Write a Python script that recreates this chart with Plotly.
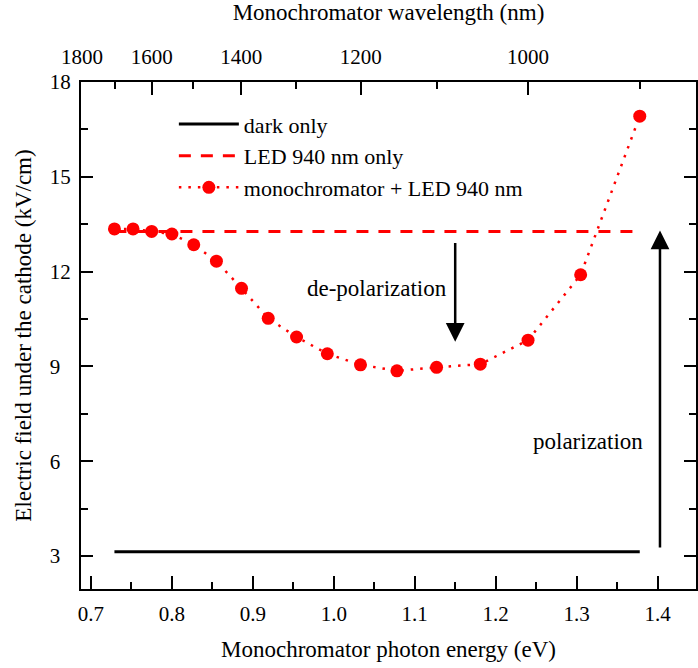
import plotly.graph_objects as go

# Data
energy_ev = [0.729, 0.752, 0.775, 0.800, 0.827, 0.855, 0.886, 0.919, 0.954,
             0.992, 1.033, 1.078, 1.127, 1.181, 1.240, 1.305, 1.378]
field_mono = [13.35, 13.35, 13.27, 13.19, 12.85, 12.33, 11.47, 10.52, 9.93,
              9.40, 9.05, 8.86, 8.97, 9.07, 9.83, 11.90, 16.92]
led_x = [0.729, 1.378]
led_y = [13.27, 13.27]
dark_x = [0.729, 1.378]
dark_y = [3.13, 3.13]

y_ticks = [3, 6, 9, 12, 15, 18]
x_ticks = [0.7, 0.8, 0.9, 1.0, 1.1, 1.2, 1.3, 1.4]
wl_major = [1800, 1600, 1400, 1200, 1000]
wl_minor = [1700, 1500, 1300, 1100, 900]

FONT = "Liberation Serif"
XR = [0.6877, 1.4475]
YR = [1.955, 18]
TXT = 23
TICK = 21

fig = go.Figure()
fig.add_trace(go.Scatter(x=dark_x, y=dark_y, mode="lines", name="dark only",
                         line=dict(color="black", width=3)))
fig.add_trace(go.Scatter(x=led_x, y=led_y, mode="lines", name="LED 940 nm only",
                         line=dict(color="#ff0000", width=3, dash="12px,10px")))
fig.add_trace(go.Scatter(x=energy_ev, y=field_mono, mode="lines+markers",
                         name="monochromator + LED 940 nm",
                         line=dict(color="#ff0000", width=2.5, dash="2.5px,7px"),
                         marker=dict(color="#ff0000", size=13)))
# invisible trace on the top axis
fig.add_trace(go.Scatter(x=[XR[0]], y=[YR[0]], xaxis="x2", mode="markers",
                         marker=dict(opacity=0), showlegend=False, hoverinfo="skip"))

# arrows
fig.add_annotation(x=1.403, y=13.3, ax=1.403, ay=3.22, xref="x", yref="y",
                   axref="x", ayref="y", showarrow=True, arrowhead=2,
                   arrowsize=1.5, arrowwidth=2.5, arrowcolor="black", text="")
fig.add_annotation(x=1.150, y=9.78, ax=1.150, ay=12.95, xref="x", yref="y",
                   axref="x", ayref="y", showarrow=True, arrowhead=2,
                   arrowsize=1.5, arrowwidth=2.5, arrowcolor="black", text="")
fig.add_annotation(x=1.142, y=11.45, text="de-polarization", showarrow=False,
                   xanchor="right", yanchor="middle",
                   font=dict(family=FONT, size=TXT, color="black"))
fig.add_annotation(x=1.385, y=6.63, text="polarization", showarrow=False,
                   xanchor="right", yanchor="middle",
                   font=dict(family=FONT, size=TXT, color="black"))

axis_common = dict(showgrid=False, zeroline=False, linecolor="black", linewidth=2,
                   ticks="inside", tickcolor="black", tickwidth=2,
                   tickfont=dict(family=FONT, size=TICK, color="black"))

fig.update_layout(
    width=698, height=668,
    margin=dict(l=81, r=0, t=82, b=79),
    paper_bgcolor="white", plot_bgcolor="white",
    font=dict(family=FONT, size=TICK, color="black"),
    xaxis=dict(range=XR, tickmode="array",
               tickvals=x_ticks,
               ticktext=[f"{v:.1f}" for v in x_ticks],
               ticklen=13, ticklabelstandoff=5,
               minor=dict(tickmode="array",
                          tickvals=[0.75, 0.85, 0.95, 1.05, 1.15, 1.25, 1.35],
                          ticks="inside", ticklen=7, tickwidth=2, tickcolor="black"),
               title=dict(text="Monochromator photon energy (eV)", standoff=16,
                          font=dict(family=FONT, size=TXT)),
               **axis_common),
    xaxis2=dict(range=XR, overlaying="x", side="top", tickmode="array",
                tickvals=[1240 / w for w in wl_major],
                ticktext=[str(w) for w in wl_major],
                ticklen=13, ticklabelstandoff=8,
                minor=dict(tickmode="array", tickvals=[1240 / w for w in wl_minor],
                           ticks="inside", ticklen=7, tickwidth=2, tickcolor="black"),
                title=dict(text="Monochromator wavelength (nm)", standoff=18,
                           font=dict(family=FONT, size=TXT)),
                **axis_common),
    yaxis=dict(range=YR, tickmode="array", tickvals=y_ticks,
               ticktext=[(str(v) + "\u00a0\u00a0") if v < 10 else str(v) for v in y_ticks],
               ticklen=12, ticklabelstandoff=4, mirror="ticks",
               minor=dict(tickmode="array",
                          tickvals=[4.5, 7.5, 10.5, 13.5, 16.5],
                          ticks="inside", ticklen=7, tickwidth=2, tickcolor="black"),
               title=dict(text="Electric field under the cathode (kV/cm)", standoff=12,
                          font=dict(family=FONT, size=TXT)),
               **axis_common),
    legend=dict(x=0.151, y=0.958, xanchor="left", yanchor="top",
                bgcolor="rgba(0,0,0,0)", itemwidth=60, tracegroupgap=0,
                font=dict(family=FONT, size=22, color="black")),
    showlegend=True,
)

fig.write_html("out.html")
